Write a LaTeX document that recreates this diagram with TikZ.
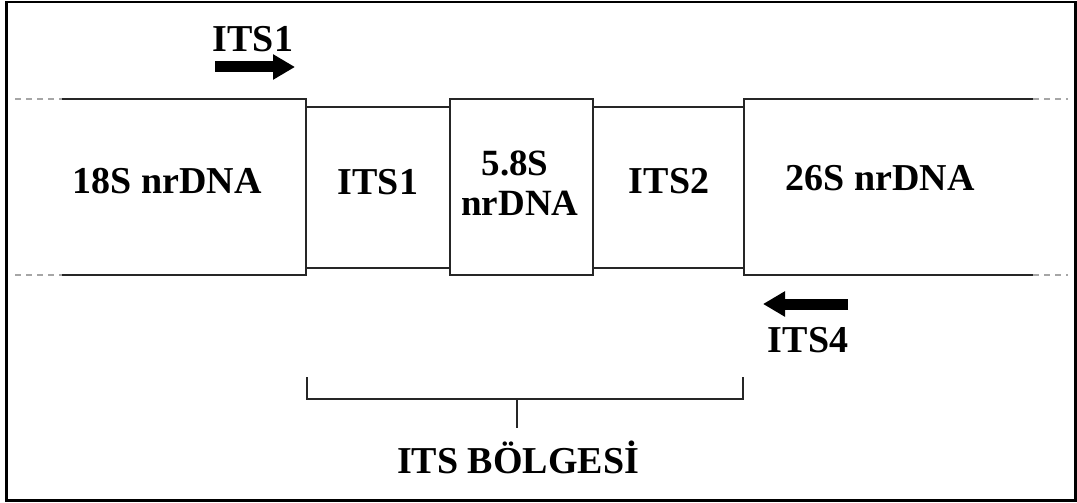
\documentclass[tikz,border=0pt]{standalone}
\usepackage{fontspec}
\setmainfont{Liberation Serif}
\usetikzlibrary{arrows.meta,positioning}
\tikzset{
  seglabel/.style={font=\bfseries\fontsize{38}{42}\selectfont, inner sep=0pt, anchor=base},
  smalllabel/.style={font=\bfseries\fontsize{37}{40}\selectfont, inner sep=0pt, anchor=base},
  strand/.style={line width=2pt, black!85},
  tail/.style={line width=2pt, gray!70, dash pattern=on 6pt off 5pt},
  primer/.style={-{Triangle[length=22pt,width=24pt]}, line width=11pt},
  bracket/.style={line width=2pt, black!85},
}

\begin{document}
\begin{tikzpicture}[x=1pt,y=-1pt]
  \useasboundingbox (0,0) rectangle (1077,503);
  \draw[line width=2.5pt] (6.5,2) rectangle (1075.5,500.5);

  % flanking genes
  \draw[tail] (15,99) -- (62,99);
  \draw[tail] (15,275) -- (62,275);
  \draw[strand] (62,99) -- (306,99) -- (306,275) -- (62,275);
  \draw[tail] (1033,99) -- (1068,99);
  \draw[tail] (1033,275) -- (1068,275);
  \draw[strand] (1033,99) -- (744,99) -- (744,275) -- (1033,275);

  % spacers and 5.8S
  \draw[strand] (306,107) rectangle (450,268);
  \draw[strand] (450,99) rectangle (593,275);
  \draw[strand] (593,107) rectangle (744,268);

  \node[seglabel] (g18) at (167,193) {18S nrDNA};
  \node[seglabel] (its1) at (378,194) {ITS1};
  \node[smalllabel] (g58a) at (515,175) {5.8S};
  \node[smalllabel] (g58b) at (520,215) {nrDNA};
  \node[seglabel] (its2) at (669,193) {ITS2};
  \node[seglabel] (g26) at (880,190) {26S nrDNA};

  % primers
  \node[seglabel] (fwd) at (253,52) {ITS1};
  \coordinate (fwdS) at (215,67);
  \coordinate (fwdE) at (295,67);
  \draw[primer] (fwdS) -- (fwdE);
  \node[seglabel] (rev) at (808,352) {ITS4};
  \coordinate (revS) at (848,304);
  \coordinate (revE) at (763,304);
  \draw[primer] (revS) -- (revE);

  % ITS region bracket
  \coordinate (brL) at (307,377);
  \coordinate (brR) at (743,377);
  \coordinate (brM) at (517,399);
  \coordinate (brT) at (517,428);
  \draw[bracket] (brL) -- ++(0,22) -| (brR);
  \draw[bracket] (brM) -- (brT);
  \node[seglabel] (region) at (518,473) {ITS BÖLGESİ};
\end{tikzpicture}
\end{document}
